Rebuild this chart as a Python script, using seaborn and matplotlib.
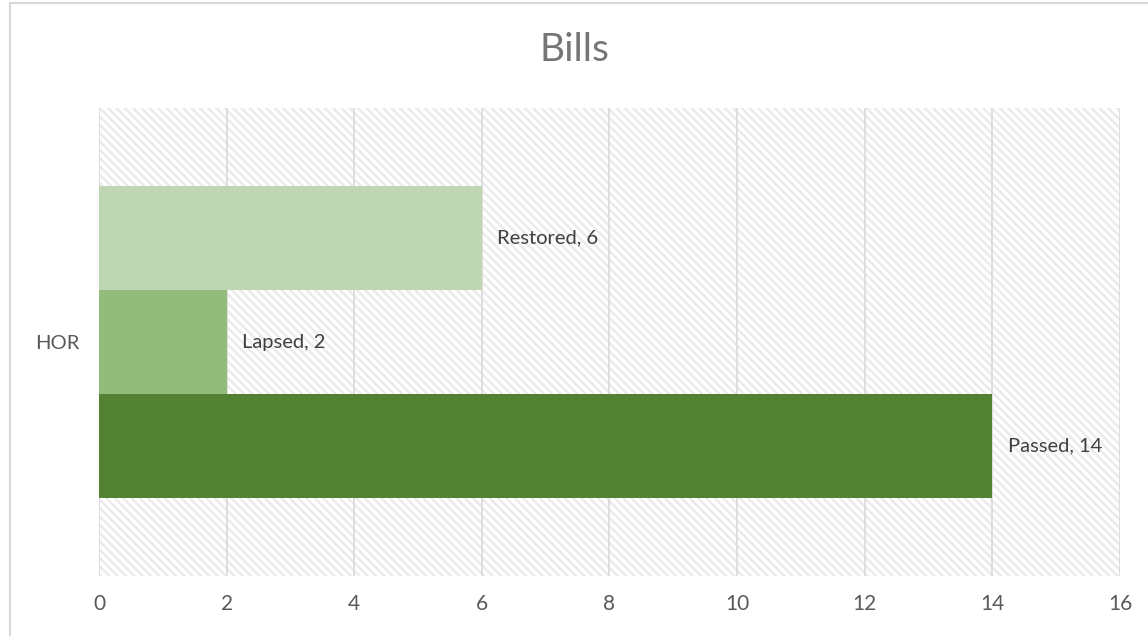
import pandas as pd
import matplotlib.pyplot as plt
import seaborn as sns
from matplotlib.patches import Rectangle

# data
categories = ['HOR']
statuses = ['Restored', 'Lapsed', 'Passed']
counts = [6, 2, 14]
colors = ['#bfd6b3', '#93bb7b', '#548235']
x_ticks = [0, 2, 4, 6, 8, 10, 12, 14, 16]

df = pd.DataFrame({
    'chamber': categories * len(statuses),
    'status': statuses,
    'bills': counts,
})

sns.set_theme(style='white')
plt.rcParams['font.family'] = ['Lato', 'DejaVu Sans']
plt.rcParams['hatch.linewidth'] = 1.8

fig = plt.figure(figsize=(11.48, 6.36), dpi=100)
ax = fig.add_axes([0.0862, 0.0943, 0.8894, 0.7358])

# light diagonal pattern behind the plot area
ax.add_patch(Rectangle((0, 0), 1, 1, transform=ax.transAxes, facecolor='white',
                       edgecolor='#ebebeb', hatch='\\\\\\\\', lw=0, zorder=0))

sns.barplot(data=df, x='bills', y='chamber', hue='status', hue_order=statuses,
            palette=colors, width=2/3, orient='h', saturation=1, legend=False,
            linewidth=0, ax=ax, zorder=3)

for container, status in zip(ax.containers, statuses):
    bar = container[0]
    w = bar.get_width()
    yc = bar.get_y() + bar.get_height() / 2
    ax.annotate(f'{status}, {w:g}', (w, yc), xytext=(11, 0), textcoords='offset points',
                va='center', ha='left', fontsize=14.5, color='#404040')

ax.set_xlim(0, 16)
ax.set_xticks(x_ticks)
ax.grid(axis='x', color='#d9d9d9', lw=1.2)
ax.set_axisbelow(True)
for s in ax.spines.values():
    s.set_visible(False)
ax.tick_params(axis='x', length=0, pad=13, labelsize=15, labelcolor='#595959')
ax.tick_params(axis='y', length=0, pad=14, labelsize=14.5, labelcolor='#595959')
ax.set_xlabel('')
ax.set_ylabel('')

fig.text(0.5, 1 - 50/636, 'Bills', ha='center', va='center', fontsize=28, color='#757575')

# outer chart border (partly cut off, as in the screenshot)
fig.add_artist(Rectangle((10/1148, -0.1), 1.2, 1 - 3/636 + 0.1, transform=fig.transFigure,
                         fill=False, edgecolor='#d9d9d9', lw=1.5))

fig.savefig('out.png', dpi=100)
